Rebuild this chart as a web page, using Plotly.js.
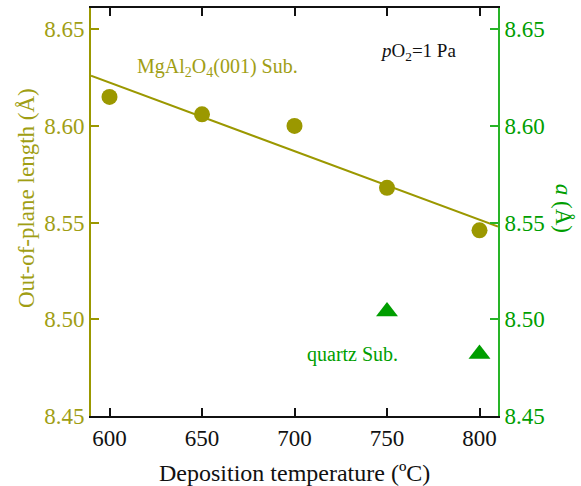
<!DOCTYPE html>
<html>
<head>
<meta charset="utf-8">
<script src="https://cdn.plot.ly/plotly-3.0.1.min.js"></script>
<style>
html,body{margin:0;padding:0;background:#fff;}
#chart{width:581px;height:486px;}
#chart text{font-family:"Liberation Serif","Times New Roman",serif !important;}
</style>
</head>
<body>
<div id="chart"></div>
<script>
// Data
const tempMgAl = [600, 650, 700, 750, 800];
const outOfPlane = [8.615, 8.606, 8.600, 8.568, 8.546];
const fitTemp = [590, 810];
const fitLength = [8.626, 8.548];
const tempQuartz = [750, 800];
const latticeA = [8.504, 8.482];
const xTicks = [600, 650, 700, 750, 800];
const yTicks = [8.45, 8.50, 8.55, 8.60, 8.65];

const olive = 'rgb(155,152,0)';
const oliveText = 'rgb(160,158,20)';
const green = 'rgb(0,158,0)';
const greenAxis = 'rgb(40,180,40)';
const font = 'Liberation Serif';

const traces = [
  {x: fitTemp, y: fitLength, mode: 'lines', line: {color: olive, width: 2}, xaxis: 'x', yaxis: 'y', hoverinfo: 'skip'},
  {x: tempMgAl, y: outOfPlane, mode: 'markers', marker: {symbol: 'circle', size: 16, color: olive}, xaxis: 'x', yaxis: 'y'},
  {x: tempQuartz, y: latticeA, mode: 'markers', marker: {symbol: 'triangle-up', size: 19, color: green}, xaxis: 'x', yaxis: 'y2'}
];

const layout = {
  width: 581, height: 486,
  margin: {l: 91, r: 83, t: 8, b: 70},
  paper_bgcolor: '#fff', plot_bgcolor: '#fff',
  showlegend: false,
  font: {family: font, size: 22, color: '#000'},
  xaxis: {
    range: [590, 810], tickvals: xTicks, ticktext: xTicks.map(String),
    showgrid: false, zeroline: false, showline: true, linecolor: '#111', linewidth: 2,
    mirror: 'ticks', ticks: 'inside', ticklen: 8, tickwidth: 2, tickcolor: '#111',
    tickfont: {family: font, size: 23, color: '#111'}
  },
  yaxis: {
    range: [8.45, 8.661], tickvals: yTicks, ticktext: yTicks.map(v => v.toFixed(2)),
    showgrid: false, zeroline: false, showline: true, linecolor: olive, linewidth: 2,
    ticks: 'inside', ticklen: 8, tickwidth: 2, tickcolor: olive,
    tickfont: {family: font, size: 23, color: oliveText}
  },
  yaxis2: {
    range: [8.45, 8.661], tickvals: yTicks, ticktext: yTicks.map(v => v.toFixed(2)),
    overlaying: 'y', side: 'right', anchor: 'x',
    showgrid: false, zeroline: false, showline: true, linecolor: greenAxis, linewidth: 2,
    ticks: 'inside', ticklen: 8, tickwidth: 2, tickcolor: greenAxis,
    tickfont: {family: font, size: 23, color: green}
  },
  annotations: [
    {text: 'Deposition temperature (ºC)', xref: 'paper', yref: 'paper', x: 0.5, y: -0.14, xanchor: 'center', yanchor: 'middle', showarrow: false, font: {family: font, size: 24, color: '#111'}},
    {text: 'Out-of-plane length (Å)', xref: 'paper', yref: 'paper', x: -0.16, y: 0.534, xanchor: 'center', yanchor: 'middle', textangle: -90, showarrow: false, font: {family: font, size: 23, color: oliveText}},
    {text: '<i>a</i> (Å)', xref: 'paper', yref: 'paper', x: 1.16, y: 0.51, xanchor: 'center', yanchor: 'middle', textangle: 90, showarrow: false, font: {family: font, size: 23, color: green}},
    {text: 'MgAl<sub>2</sub>O<sub>4</sub>(001) Sub.', xref: 'paper', yref: 'paper', x: 0.108, y: 0.855, xanchor: 'left', yanchor: 'middle', showarrow: false, font: {family: font, size: 20, color: oliveText}},
    {text: '<i>p</i>O<sub>2</sub>=1 Pa', xref: 'paper', yref: 'paper', x: 0.705, y: 0.892, xanchor: 'left', yanchor: 'middle', showarrow: false, font: {family: font, size: 19, color: '#111'}},
    {text: 'quartz Sub.', xref: 'paper', yref: 'paper', x: 0.526, y: 0.15, xanchor: 'left', yanchor: 'middle', showarrow: false, font: {family: font, size: 20, color: green}}
  ]
};

Plotly.newPlot('chart', traces, layout, {displayModeBar: false, staticPlot: true});
</script>
</body>
</html>
